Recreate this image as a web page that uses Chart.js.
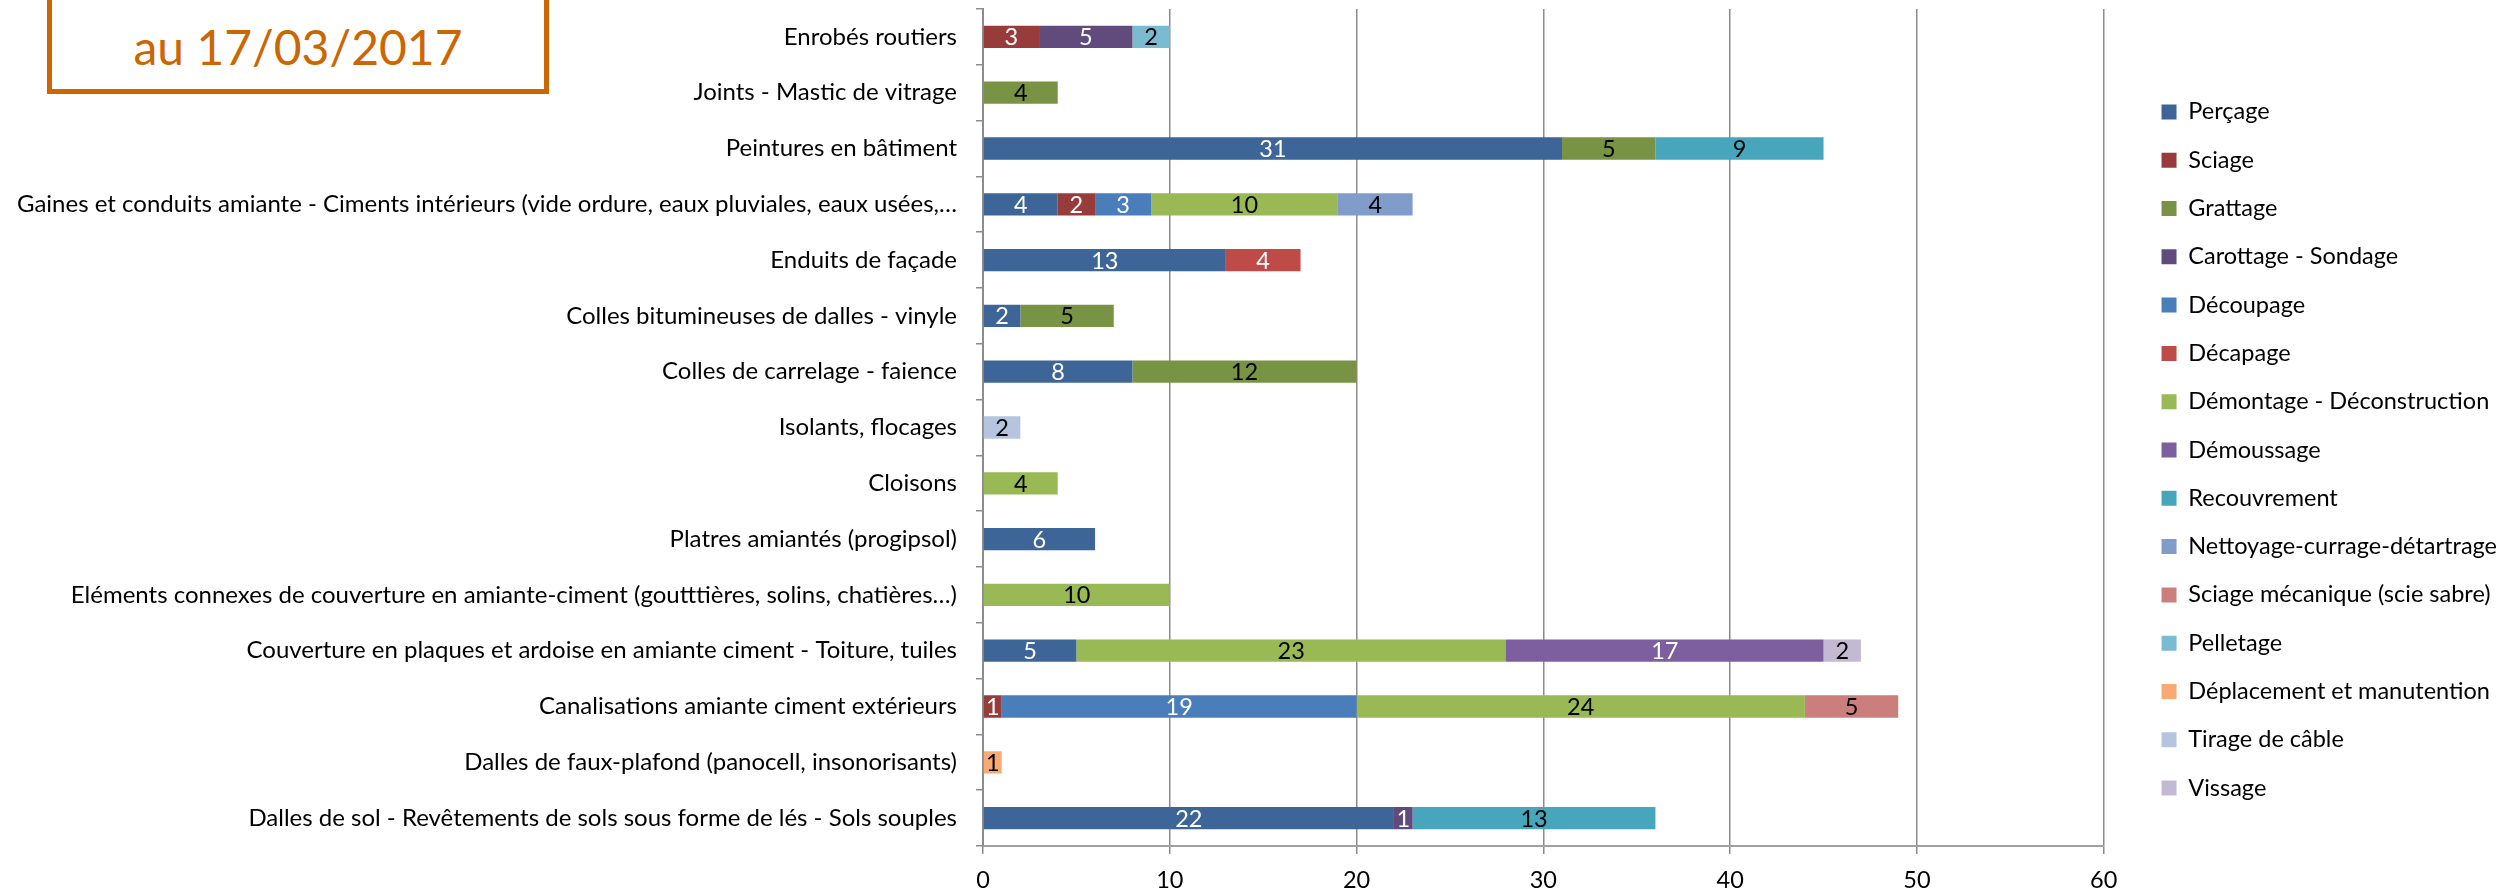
<!DOCTYPE html>
<html><head><meta charset="utf-8">
<script src="https://cdn.jsdelivr.net/npm/chart.js@4"></script>
<style>
html,body{margin:0;padding:0;background:#fff;overflow:hidden}
#wrap{position:relative;width:2515px;height:891px}
canvas{position:absolute;left:0;top:0}
#stamp{position:absolute;left:47px;top:-10px;width:492px;height:66px;padding-top:28px;border:5px solid #CC6600;color:#CC6600;font-family:Lato;font-size:48px;text-align:center;line-height:48px;background:#fff}
</style></head>
<body>
<div id="wrap">
<canvas id="c" width="2515" height="891"></canvas>
<div id="stamp">au 17/03/2017</div>
</div>
<script>
const categories = [
  "Enrobés routiers",
  "Joints - Mastic de vitrage",
  "Peintures en bâtiment",
  "Gaines et conduits amiante - Ciments intérieurs (vide ordure, eaux pluviales, eaux usées,…",
  "Enduits de façade",
  "Colles bitumineuses de dalles - vinyle",
  "Colles de carrelage - faience",
  "Isolants, flocages",
  "Cloisons",
  "Platres amiantés (progipsol)",
  "Eléments connexes de couverture en amiante-ciment (goutttières, solins, chatières…)",
  "Couverture en plaques et ardoise en amiante ciment - Toiture, tuiles",
  "Canalisations amiante ciment extérieurs",
  "Dalles de faux-plafond (panocell, insonorisants)",
  "Dalles de sol - Revêtements de sols sous forme de lés - Sols souples"
];
const seriesNames = ["Perçage","Sciage","Grattage","Carottage - Sondage","Découpage","Décapage","Démontage - Déconstruction","Démoussage","Recouvrement","Nettoyage-currage-détartrage","Sciage mécanique (scie sabre)","Pelletage","Déplacement et manutention","Tirage de câble","Vissage"];
const _ = null;
const percage      = [_,_,31,4,13,2,8,_,_,6,_,5,_,_,22];
const sciage       = [3,_,_,2,_,_,_,_,_,_,_,_,1,_,_];
const grattage     = [_,4,5,_,_,5,12,_,_,_,_,_,_,_,_];
const carottage    = [5,_,_,_,_,_,_,_,_,_,_,_,_,_,1];
const decoupage    = [_,_,_,3,_,_,_,_,_,_,_,_,19,_,_];
const decapage     = [_,_,_,_,4,_,_,_,_,_,_,_,_,_,_];
const demontage    = [_,_,_,10,_,_,_,_,4,_,10,23,24,_,_];
const demoussage   = [_,_,_,_,_,_,_,_,_,_,_,17,_,_,_];
const recouvrement = [_,_,9,_,_,_,_,_,_,_,_,_,_,_,13];
const nettoyage    = [_,_,_,4,_,_,_,_,_,_,_,_,_,_,_];
const sciageMeca   = [_,_,_,_,_,_,_,_,_,_,_,_,5,_,_];
const pelletage    = [2,_,_,_,_,_,_,_,_,_,_,_,_,_,_];
const deplacement  = [_,_,_,_,_,_,_,_,_,_,_,_,_,1,_];
const tirage       = [_,_,_,_,_,_,_,2,_,_,_,_,_,_,_];
const vissage      = [_,_,_,_,_,_,_,_,_,_,_,2,_,_,_];
const xTicksMax = 60, xTicksStep = 10;

const seriesValues = [percage,sciage,grattage,carottage,decoupage,decapage,demontage,demoussage,recouvrement,nettoyage,sciageMeca,pelletage,deplacement,tirage,vissage];
const colors = ["#3D6597","#973C3A","#789343","#604B7C","#4A7EBB","#BE4B48","#98B954","#7D5FA0","#47A5BC","#809DCA","#CB7F7D","#7BBBD1","#F9AA73","#B5C4DF","#C3B9D3"];
const labelColors = ["#fff","#fff","#000","#fff","#fff","#fff","#000","#fff","#000","#000","#000","#000","#000","#000","#000"];
const FONT = "Lato";
const FS = 23.5;
const FS_CAT = 24;

const valueLabels = {
  id: 'valueLabels',
  afterDatasetsDraw(chart) {
    const ctx = chart.ctx;
    ctx.save();
    ctx.font = FS + 'px ' + FONT;
    ctx.textAlign = 'center';
    ctx.textBaseline = 'middle';
    chart.data.datasets.forEach((ds, i) => {
      const meta = chart.getDatasetMeta(i);
      meta.data.forEach((bar, j) => {
        const v = ds.data[j];
        if (v == null) return;
        ctx.fillStyle = labelColors[i];
        ctx.fillText(String(v), (bar.x + bar.base) / 2, bar.y + 1);
      });
    });
    ctx.restore();
  }
};

function draw() {
  new Chart(document.getElementById('c'), {
    type: 'bar',
    data: {
      labels: categories,
      datasets: seriesNames.map((n, i) => ({
        label: n,
        data: seriesValues[i],
        backgroundColor: colors[i],
        borderWidth: 0,
        barPercentage: 0.4,
        categoryPercentage: 1.0
      }))
    },
    options: {
      indexAxis: 'y',
      responsive: false,
      animation: false,
      devicePixelRatio: 1,
      layout: { padding: { top: 9, left: 0, right: 8, bottom: 0 } },
      plugins: {
        tooltip: { enabled: false },
        legend: {
          position: 'right',
          align: 'center',
          labels: { boxWidth: 15, boxHeight: 15, padding: 24.8, color: '#000', font: { family: FONT, size: FS } }
        }
      },
      scales: {
        x: {
          type: 'linear', stacked: true, min: 0, max: xTicksMax,
          ticks: { stepSize: xTicksStep, color: '#000', font: { family: FONT, size: FS }, padding: 12 },
          grid: { color: '#8c8c8c', lineWidth: 1.5, tickLength: 8 },
          border: { color: '#a0a0a0', width: 2 },
          afterFit(s) { s.height = 45; s.paddingLeft = 0; s.paddingRight = 0; }
        },
        y: {
          type: 'category', stacked: true,
          ticks: { color: '#000', font: { family: FONT, size: FS_CAT }, padding: 19, autoSkip: false },
          grid: { drawOnChartArea: false, offset: true, tickLength: 7, color: '#8c8c8c', lineWidth: 1.5 },
          border: { color: '#8c8c8c', width: 2 },
          afterFit(s) { s.width = 983; s.paddingTop = 0; s.paddingBottom = 0; }
        },
        spacer: {
          type: 'category', position: 'right', axis: 'y', display: true,
          grid: { display: false }, border: { display: false }, ticks: { display: false },
          afterFit(s) { s.width = 33; s.paddingTop = 0; s.paddingBottom = 0; }
        }
      }
    },
    plugins: [valueLabels]
  });
}
if (document.fonts && document.fonts.load) {
  document.fonts.load(FS + 'px ' + FONT).then(draw, draw);
} else { draw(); }
</script>
</body></html>
